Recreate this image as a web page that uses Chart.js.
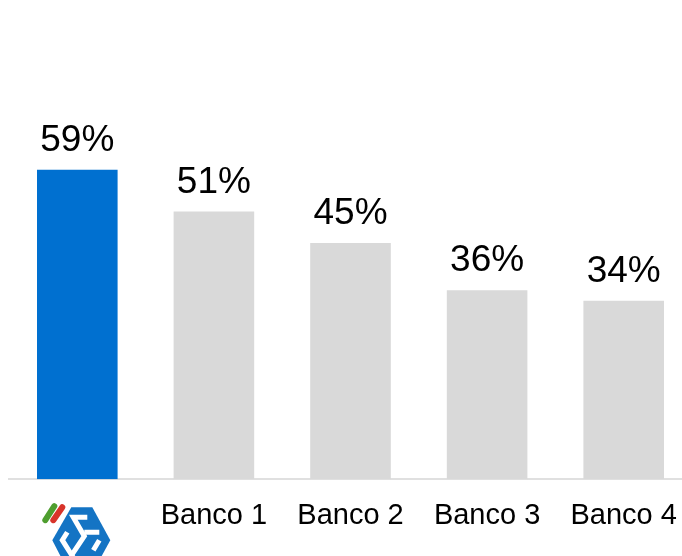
<!DOCTYPE html>
<html>
<head>
<meta charset="utf-8">
<script src="https://cdn.jsdelivr.net/npm/chart.js@4"></script>
<style>
  html, body { margin: 0; padding: 0; background: #fff; overflow: hidden; width: 682px; height: 556px; }
  canvas { display: block; }
</style>
</head>
<body>
<canvas id="bars" width="700" height="556"></canvas>
<script>
const categories = ["", "Banco 1", "Banco 2", "Banco 3", "Banco 4"];
const shares = [59, 51, 45, 36, 34];
const barColors = ["#0070D0", "#D9D9D9", "#D9D9D9", "#D9D9D9", "#D9D9D9"];

// percentage above each bar
const valueLabels = {
  id: "valueLabels",
  afterDatasetsDraw(chart) {
    const ctx = chart.ctx;
    ctx.save();
    ctx.font = '37px "Liberation Sans"';
    ctx.fillStyle = "#000";
    ctx.textAlign = "center";
    ctx.textBaseline = "alphabetic";
    chart.getDatasetMeta(0).data.forEach((bar, i) => {
      ctx.fillText(shares[i] + "%", bar.x, bar.y - 19);
    });
    ctx.restore();
  }
};

// bank logo sits in the empty first category slot
const logo = {
  id: "logo",
  afterDraw(chart) {
    const ctx = chart.ctx;
    const cx = chart.scales.x.getPixelForTick(0) + 4;
    const cy = chart.scales.y.bottom + 62;
    ctx.save();
    ctx.translate(cx, cy);

    // blue hexagon with white cuts forming the knot
    ctx.fillStyle = "#1474C4";
    ctx.beginPath();
    ctx.moveTo(-10, -34);
    ctx.lineTo(11, -34);
    ctx.lineTo(29, -1);
    ctx.lineTo(11, 32);
    ctx.lineTo(-12, 32);
    ctx.lineTo(-29, -1);
    ctx.closePath();
    ctx.fill();

    ctx.strokeStyle = "#fff";
    ctx.lineWidth = 5;
    ctx.lineJoin = "miter";
    ctx.beginPath();
    ctx.moveTo(6, -24);
    ctx.lineTo(-8, -24);
    ctx.lineTo(3, -5);
    ctx.lineTo(-9, 13);
    ctx.stroke();
    ctx.beginPath();
    ctx.moveTo(-14, -9);
    ctx.lineTo(-19, -1);
    ctx.lineTo(-7, 18);
    ctx.lineTo(7, 18);
    ctx.moveTo(18, -9);
    ctx.lineTo(3, -9);
    ctx.moveTo(12, 9);
    ctx.lineTo(18, -1);
    ctx.stroke();

    // notch where the strokes sit
    ctx.fillStyle = "#fff";
    ctx.beginPath();
    ctx.moveTo(-34, -36);
    ctx.lineTo(-10, -36);
    ctx.lineTo(-22, -15);
    ctx.lineTo(-34, -15);
    ctx.closePath();
    ctx.fill();

    // green and red strokes on top
    ctx.lineCap = "round";
    ctx.lineWidth = 6;
    ctx.strokeStyle = "#4E9E2F";
    ctx.beginPath();
    ctx.moveTo(-36, -21);
    ctx.lineTo(-27, -35);
    ctx.stroke();
    ctx.strokeStyle = "#D8342A";
    ctx.beginPath();
    ctx.moveTo(-28, -21);
    ctx.lineTo(-19, -34);
    ctx.stroke();
    ctx.restore();
  }
};

new Chart(document.getElementById("bars"), {
  type: "bar",
  data: {
    labels: categories,
    datasets: [{
      data: shares,
      backgroundColor: barColors,
      categoryPercentage: 1,
      barPercentage: 0.59
    }]
  },
  options: {
    responsive: false,
    animation: false,
    layout: { padding: { left: 9, right: 8, top: 7, bottom: 4 } },
    plugins: { legend: { display: false }, tooltip: { enabled: false } },
    scales: {
      x: {
        grid: { display: false, drawTicks: false },
        border: { color: "#E0E0E0", width: 2 },
        ticks: {
          color: "#000",
          font: { family: '"Liberation Sans"', size: 29 },
          maxRotation: 0,
          autoSkip: false,
          padding: 19
        }
      },
      y: {
        display: false,
        min: 0,
        max: 90
      }
    }
  },
  plugins: [valueLabels, logo]
});
</script>
</body>
</html>
